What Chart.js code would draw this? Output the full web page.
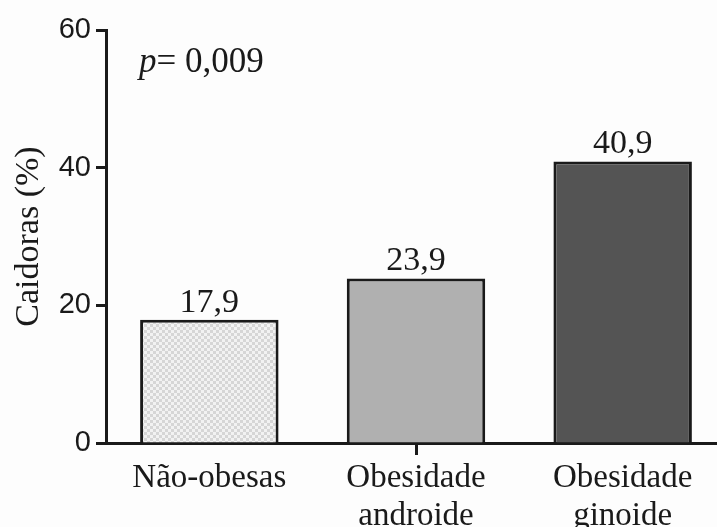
<!DOCTYPE html>
<html>
<head>
<meta charset="utf-8">
<script src="https://cdn.jsdelivr.net/npm/chart.js@4/dist/chart.umd.min.js"></script>
<style>
  html, body { margin: 0; padding: 0; background: #fdfdfd; }
  #wrap { width: 717px; height: 527px; position: relative; }
</style>
</head>
<body>
<div id="wrap"><canvas id="fallsChart"></canvas></div>
<script>
// Data
const categories = [['Não-obesas'], ['Obesidade', 'androide'], ['Obesidade', 'ginoide']];
const caidoras = [17.9, 23.9, 40.9];
const valueLabels = ['17,9', '23,9', '40,9'];
const yTicks = [0, 20, 40, 60];
const pValue = '0,009';

const ink = '#1a1a1a';

// Fine checkerboard for the first bar
function checkerPattern() {
    const c = document.createElement('canvas');
    c.width = 6;
    c.height = 6;
    const g = c.getContext('2d');
    g.fillStyle = '#f2f2f2';
    g.fillRect(0, 0, 6, 6);
    g.fillStyle = '#d6d6d6';
    g.fillRect(0, 0, 3, 3);
    g.fillRect(3, 3, 3, 3);
    return g.createPattern(c, 'repeat');
}

const ctx = document.getElementById('fallsChart').getContext('2d');

// The x axis in the figure runs past the right edge of the picture
const stretchX = {
    id: 'stretchX',
    afterLayout(chart) {
        const x = chart.scales.x;
        x.right = 726;
        x.width = x.right - x.left;
        chart.chartArea.right = 726;
        chart.chartArea.width = chart.chartArea.right - chart.chartArea.left;
        x.configure();
    }
};

// Value labels above bars and the p-value note
const annotations = {
    id: 'annotations',
    afterDatasetsDraw(chart) {
        const c = chart.ctx;
        const bars = chart.getDatasetMeta(0).data;
        c.save();
        c.fillStyle = ink;
        c.font = '34px "Liberation Serif"';
        c.textAlign = 'center';
        c.textBaseline = 'alphabetic';
        bars.forEach((bar, i) => {
            c.fillText(valueLabels[i], bar.x, bar.y - 8);
        });

        c.textAlign = 'left';
        const x0 = chart.chartArea.left + 33;
        const y0 = 72;
        c.font = 'italic 35px "Liberation Serif"';
        c.fillText('p', x0, y0);
        const pw = c.measureText('p').width;
        c.font = '35px "Liberation Serif"';
        c.fillText('= ' + pValue, x0 + pw, y0);
        c.restore();
    }
};

new Chart(ctx, {
    type: 'bar',
    data: {
        labels: categories,
        datasets: [{
            data: caidoras,
            backgroundColor: [checkerPattern(), '#b0b0b0', '#545454'],
            borderColor: ink,
            borderWidth: 3,
            borderSkipped: 'start',
            categoryPercentage: 1,
            barPercentage: 0.67
        }]
    },
    options: {
        responsive: true,
        maintainAspectRatio: false,
        animation: false,
        layout: { padding: { top: 30, right: 0, bottom: 0, left: 0 } },
        plugins: {
            legend: { display: false },
            tooltip: { enabled: false }
        },
        scales: {
            x: {
                afterFit: (scale) => { scale.height = 84; },
                border: { display: true, color: ink, width: 3 },
                grid: {
                    offset: false,
                    drawOnChartArea: false,
                    tickLength: 12,
                    tickWidth: 3,
                    tickColor: (c) => c.index === 1 ? ink : 'rgba(0,0,0,0)'
                },
                ticks: {
                    color: ink,
                    font: { family: 'Liberation Serif', size: 33, lineHeight: 1.16 },
                    padding: 4,
                    maxRotation: 0,
                    autoSkip: false
                }
            },
            y: {
                min: 0,
                max: 60,
                afterFit: (scale) => { scale.width = 106; },
                afterBuildTicks: (scale) => { scale.ticks = yTicks.map(v => ({ value: v })); },
                border: { display: true, color: ink, width: 3 },
                grid: {
                    drawOnChartArea: false,
                    tickLength: 10,
                    tickWidth: 3,
                    tickColor: ink
                },
                ticks: {
                    color: ink,
                    font: { family: 'Liberation Sans', size: 29 },
                    padding: 5
                },
                title: {
                    display: true,
                    text: 'Caidoras (%)',
                    color: ink,
                    font: { family: 'Liberation Serif', size: 34, lineHeight: 1.2 },
                    padding: { top: 9, bottom: 0 }
                }
            }
        }
    },
    plugins: [stretchX, annotations]
});
</script>
</body>
</html>
